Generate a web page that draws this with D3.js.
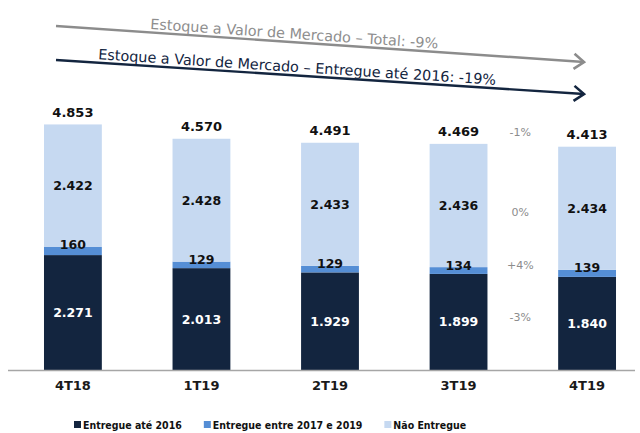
<!DOCTYPE html>
<html>
<head>
<meta charset="utf-8">
<script src="https://cdn.jsdelivr.net/npm/d3@7"></script>
<style>
  body { margin: 0; background: #fff; }
  svg { display: block; font-family: "DejaVu Sans", Verdana, sans-serif; }
</style>
</head>
<body>
<div id="chart"></div>
<script>
var quarters = ["4T18", "1T19", "2T19", "3T19", "4T19"]
var entregue2016 = [2271, 2013, 1929, 1899, 1840]
var entregue1719 = [160, 129, 129, 134, 139]
var naoEntregue = [2422, 2428, 2433, 2436, 2434]
var totals = [4853, 4570, 4491, 4469, 4413]
var seriesNames = ["Entregue até 2016", "Entregue entre 2017 e 2019", "Não Entregue"]
var varLabels = ["-1%", "0%", "+4%", "-3%"]   // total, não entregue, 2017-19, até 2016
var arrowTexts = ["Estoque a Valor de Mercado \u2013 Total: -9%",
                  "Estoque a Valor de Mercado \u2013 Entregue até 2016: -19%"]

var width = 640,
    height = 433,
    base = 370

var colors = ["#13253f", "#558ed5", "#c6d9f1"]
var fmt = d3.format(",")
function ptNum(v) { return fmt(v).replace(/,/g, ".") }

var svg = d3.select("#chart").append("svg")
    .attr("width", width)
    .attr("height", height)

var x = d3.scaleBand()
    .domain(quarters)
    .range([8, 652])
    .paddingInner(0.55)
    .paddingOuter(0.28)

var y = d3.scaleLinear()
    .domain([0, 5000])
    .range([base, 117])

var data = quarters.map(function (q, i) {
    return { q: q, a: entregue2016[i], b: entregue1719[i], c: naoEntregue[i], total: totals[i] }
})

var stack = d3.stack().keys(["a", "b", "c"])(data)

// bars
svg.append("g").selectAll("g")
    .data(stack)
    .enter().append("g")
    .attr("fill", function (d, i) { return colors[i] })
    .selectAll("rect")
    .data(function (d) { return d })
    .enter().append("rect")
    .attr("x", function (d) { return x(d.data.q) })
    .attr("y", function (d) { return y(d[1]) })
    .attr("width", x.bandwidth())
    .attr("height", function (d) { return y(d[0]) - y(d[1]) })

// axis line
svg.append("line")
    .attr("x1", 8).attr("x2", 635)
    .attr("y1", base + 0.5).attr("y2", base + 0.5)
    .attr("stroke", "#a6a6a6")
    .attr("stroke-width", 1.5)

// category labels
svg.append("g").selectAll("text")
    .data(quarters)
    .enter().append("text")
    .attr("x", function (d) { return x(d) + x.bandwidth() / 2 })
    .attr("y", base + 20)
    .attr("text-anchor", "middle")
    .attr("font-size", 13)
    .attr("font-weight", "bold")
    .attr("fill", "#1a1a1a")
    .text(function (d) { return d })

function cx(d) { return x(d.q) + x.bandwidth() / 2 }
var labelPos = {
    total: function (d) { return y(d.total) - 12 },
    c: function (d) { return y(d.a + d.b + d.c / 2) },
    b: function (d) { return y(d.a + d.b) - 2 },
    a: function (d) { return y(d.a / 2) }
}

var lbl = svg.append("g")
    .attr("text-anchor", "middle")
    .attr("font-weight", "bold")
    .attr("dominant-baseline", "central")

lbl.selectAll(".tot").data(data).enter().append("text")
    .attr("x", cx).attr("y", labelPos.total)
    .attr("font-size", 13).attr("fill", "#111")
    .text(function (d) { return ptNum(d.total) })

lbl.selectAll(".lc").data(data).enter().append("text")
    .attr("x", cx).attr("y", labelPos.c)
    .attr("font-size", 12.5).attr("fill", "#111")
    .text(function (d) { return ptNum(d.c) })

lbl.selectAll(".lb").data(data).enter().append("text")
    .attr("x", cx).attr("y", labelPos.b)
    .attr("font-size", 12.5).attr("fill", "#111")
    .text(function (d) { return ptNum(d.b) })

lbl.selectAll(".la").data(data).enter().append("text")
    .attr("x", cx).attr("y", labelPos.a)
    .attr("font-size", 12.5).attr("fill", "#fff")
    .text(function (d) { return ptNum(d.a) })

// variation 3T19 -> 4T19, between the last two bars
var d3T = data[3], d4T = data[4]
var vx = (x(d3T.q) + x.bandwidth() + x(d4T.q)) / 2 - 2.5
var keysV = ["total", "c", "b", "a"]
var nudge = [-1, 6, -1, -5]
svg.append("g").selectAll("text")
    .data(varLabels)
    .enter().append("text")
    .attr("x", vx)
    .attr("y", function (t, i) {
        var k = keysV[i]
        return (labelPos[k](d3T) + labelPos[k](d4T)) / 2 + nudge[i]
    })
    .attr("text-anchor", "middle")
    .attr("dominant-baseline", "central")
    .attr("font-size", 11)
    .attr("fill", "#8c8c8c")
    .text(function (d) { return d })

// trend arrows
var defs = svg.append("defs")
var arrows = [
    { x1: 56, y1: 26, x2: 585, y2: 62, color: "#8c8c8c", textColor: "#8e8e8e", tx: 150 },
    { x1: 56, y1: 60, x2: 585, y2: 94, color: "#13253f", textColor: "#13253f", tx: 98 }
]
arrows.forEach(function (a, i) {
    defs.append("marker")
        .attr("id", "head" + i)
        .attr("viewBox", "-12 -10 14 20")
        .attr("refX", 0).attr("refY", 0)
        .attr("markerWidth", 14).attr("markerHeight", 20)
        .attr("markerUnits", "userSpaceOnUse")
        .attr("orient", "auto")
        .append("path")
        .attr("d", "M-10,-7.5L0,0L-10,7.5")
        .attr("fill", "none")
        .attr("stroke", a.color)
        .attr("stroke-width", 2.6)
    svg.append("line")
        .attr("x1", a.x1).attr("y1", a.y1)
        .attr("x2", a.x2 - 1).attr("y2", a.y2)
        .attr("stroke", a.color)
        .attr("stroke-width", 2.4)
        .attr("marker-end", "url(#head" + i + ")")
    var ang = Math.atan2(a.y2 - a.y1, a.x2 - a.x1) * 180 / Math.PI
    var ty = a.y1 + (a.tx - a.x1) * (a.y2 - a.y1) / (a.x2 - a.x1) - 3.5
    svg.append("text")
        .attr("transform", "translate(" + a.tx + "," + ty + ") rotate(" + ang + ")")
        .attr("font-size", 14.4)
        .attr("fill", a.textColor)
        .text(arrowTexts[i])
})

// legend
var leg = svg.append("g").attr("transform", "translate(74,425)")
var lx = 0
seriesNames.forEach(function (name, i) {
    var g = leg.append("g").attr("transform", "translate(" + lx + ",0)")
    g.append("rect")
        .attr("x", 0).attr("y", -4)
        .attr("width", 7).attr("height", 7)
        .attr("fill", colors[i])
    var t = g.append("text")
        .attr("x", 9)
        .attr("dominant-baseline", "central")
        .attr("font-size", 10.5)
        .attr("font-weight", "bold")
        .attr("font-stretch", "condensed")
        .style("font-family", "'DejaVu Sans Condensed', 'DejaVu Sans', sans-serif")
        .attr("fill", "#111")
        .text(name)
    lx += 9 + t.node().getComputedTextLength() + 22
})
</script>
</body>
</html>
